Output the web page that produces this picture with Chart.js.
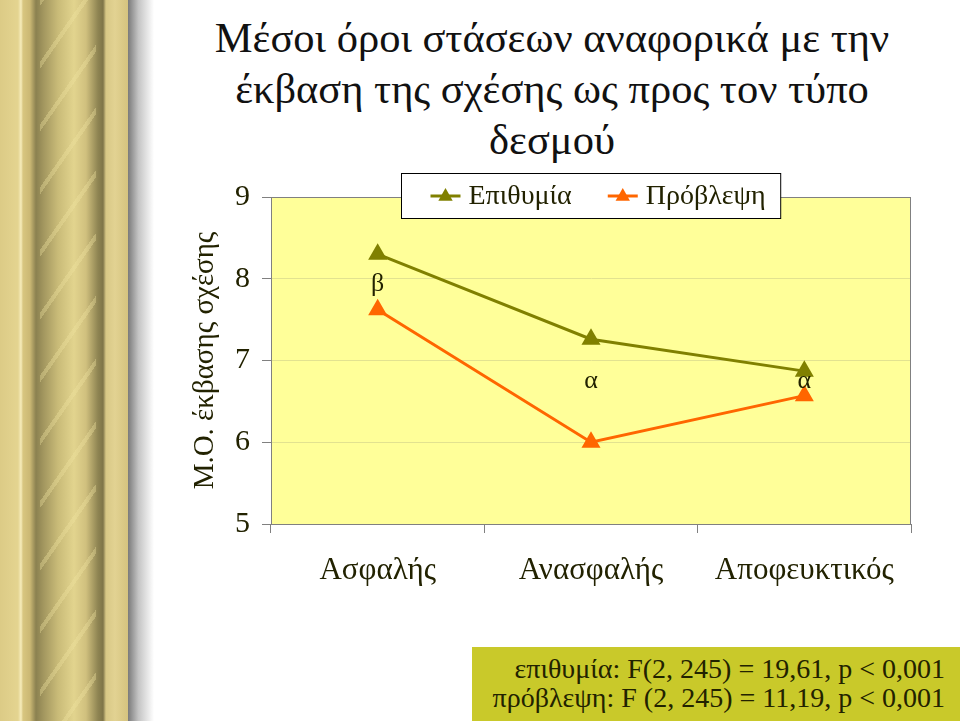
<!DOCTYPE html>
<html><head><meta charset="utf-8">
<script src="https://cdn.jsdelivr.net/npm/chart.js@4"></script>
<style>
html,body{margin:0;padding:0;width:960px;height:721px;overflow:hidden;background:#fff;}
#strip{position:absolute;left:0;top:0;width:128px;height:721px;background:linear-gradient(to right,#dccb86 0px,#e4d490 18px,#f6ecbc 21px,#d8c680 23px,#cbb874 30px,#8b8150 36px,#a49860 44px,#c9bb78 58px,#e2d48e 74px,#d0c07e 86px,#8e8452 98px,#7e7448 103px,#d8c886 106px,#e2d292 115px,#d6c480 127px);}
#rodhl{position:absolute;left:40px;top:0;width:56px;height:721px;background:repeating-linear-gradient(-55deg,rgba(0,0,0,0) 0px,rgba(0,0,0,0) 24px,rgba(240,228,160,0.35) 24px,rgba(240,228,160,0.35) 28px,rgba(0,0,0,0) 28px,rgba(0,0,0,0) 36px);}
#shadow{position:absolute;left:128px;top:0;width:26px;height:721px;background:linear-gradient(to right,#7a7a7a,#c4c4c4 40%,#ffffff);}
#title{position:absolute;left:200px;width:704px;top:12px;text-align:center;font-family:"Liberation Serif";font-size:42.5px;line-height:51px;color:#111;white-space:nowrap;}
#wrap{position:absolute;left:0;top:0;width:960px;height:721px;}
#stats{position:absolute;left:472px;top:647px;width:488px;height:74px;background:#c9c92a;text-align:right;font-family:"Liberation Serif";font-size:28px;line-height:29px;color:#222200;box-sizing:border-box;padding:7px 15px 0 0;white-space:nowrap;}
</style>
</head><body>
<div id="strip"></div><div id="rodhl"></div><div id="shadow"></div>
<div id="title">Μέσοι όροι στάσεων αναφορικά με την<br>έκβαση της σχέσης ως προς τον τύπο<br>δεσμού</div>
<div id="wrap"><canvas id="c" width="960" height="721"></canvas></div>
<div id="stats">επιθυμία: F(2, 245) = 19,61, p &lt; 0,001<br>πρόβλεψη: F (2, 245) = 11,19, p &lt; 0,001</div>
<script>
const categories = ['Ασφαλής', 'Ανασφαλής', 'Αποφευκτικός'];
const seriesNames = ['Επιθυμία', 'Πρόβλεψη'];
const desireValues = [8.30, 7.26, 6.87];
const predictionValues = [7.62, 6.00, 6.57];
const yTickValues = [5, 6, 7, 8, 9];
const yAxisTitle = 'Μ.Ο. έκβασης σχέσης';
const markLabels = ['β', 'α', 'α'];
const markLabelValues = [7.93, 6.75, 6.75];

const FONT = '"Liberation Serif"';
const colors = ['#808000', '#FF6600'];
const textColor = '#222200';

const decor = {
  id: 'decor',
  beforeDraw(chart) {
    const {ctx, chartArea: a} = chart;
    ctx.save();
    ctx.fillStyle = '#FFFF99';
    ctx.fillRect(a.left, a.top, a.right - a.left, a.bottom - a.top);
    ctx.restore();
  },
  beforeDatasetsDraw(chart) {
    const {ctx, chartArea: a} = chart;
    ctx.save();
    ctx.strokeStyle = '#808080';
    ctx.lineWidth = 1;
    ctx.strokeRect(a.left + 0.5, a.top + 0.5, a.right - a.left - 1, a.bottom - a.top);
    ctx.restore();
  },
  afterDatasetsDraw(chart) {
    const {ctx} = chart;
    const xs = chart.scales.x, ys = chart.scales.y;
    ctx.save();
    ctx.fillStyle = textColor;
    ctx.font = '26px ' + FONT;
    ctx.textAlign = 'center';
    ctx.textBaseline = 'middle';
    markLabels.forEach((t, i) => {
      ctx.fillText(t, xs.getPixelForValue(i), ys.getPixelForValue(markLabelValues[i]));
    });
    // legend
    const a = chart.chartArea;
    ctx.font = '28px ' + FONT;
    const sample = 30, gap = 8, itemGap = 36, padL = 29, padR = 15;
    const widths = chart.data.datasets.map(d => sample + gap + ctx.measureText(d.label).width);
    const total = widths.reduce((s, w) => s + w, 0) + itemGap * (widths.length - 1) + padL + padR;
    const cx = (a.left + a.right) / 2;
    const bx = Math.round(cx - total / 2) + 0.5, by = a.top - 24 + 0.5, bh = 45;
    ctx.fillStyle = '#fff';
    ctx.fillRect(bx, by, total, bh);
    ctx.strokeStyle = '#000';
    ctx.lineWidth = 1;
    ctx.strokeRect(bx, by, total, bh);
    let x = bx + padL;
    const ly = by + bh / 2;
    chart.data.datasets.forEach((d, i) => {
      ctx.strokeStyle = d.borderColor;
      ctx.lineWidth = 3;
      ctx.beginPath();
      ctx.moveTo(x, ly); ctx.lineTo(x + sample, ly); ctx.stroke();
      ctx.fillStyle = d.borderColor;
      ctx.beginPath();
      const r = 8;
      ctx.moveTo(x + sample / 2, ly - r);
      ctx.lineTo(x + sample / 2 + r * 0.9, ly + r * 0.6);
      ctx.lineTo(x + sample / 2 - r * 0.9, ly + r * 0.6);
      ctx.closePath(); ctx.fill();
      ctx.fillStyle = textColor;
      ctx.textAlign = 'left';
      ctx.fillText(d.label, x + sample + gap, ly + 1);
      x += widths[i] + itemGap;
    });
    ctx.restore();
  }
};

new Chart(document.getElementById('c'), {
  type: 'line',
  data: {
    labels: categories,
    datasets: [
      {label: seriesNames[0], data: desireValues, borderColor: colors[0], backgroundColor: colors[0], borderWidth: 3, pointStyle: 'triangle', pointRadius: 8, pointHoverRadius: 8, tension: 0},
      {label: seriesNames[1], data: predictionValues, borderColor: colors[1], backgroundColor: colors[1], borderWidth: 3, pointStyle: 'triangle', pointRadius: 8, pointHoverRadius: 8, tension: 0}
    ]
  },
  options: {
    responsive: false,
    animation: false,
    devicePixelRatio: 1,
    layout: {padding: {left: 184, top: 197, right: 49, bottom: 0}},
    plugins: {legend: {display: false}, title: {display: false}, tooltip: {enabled: false}},
    scales: {
      x: {
        type: 'category',
        offset: true,
        grid: {offset: true, drawOnChartArea: false, drawTicks: true, tickLength: 9, tickColor: '#808080'},
        border: {color: '#808080'},
        ticks: {color: textColor, font: {family: FONT, size: 31}, padding: 19, maxRotation: 0, autoSkip: false},
        afterFit(s) { s.height = 197; }
      },
      y: {
        min: 5, max: 9,
        afterBuildTicks(s) { s.ticks = yTickValues.map(v => ({value: v})); },
        grid: {color: '#E2E290', tickLength: 9, tickColor: '#808080'},
        border: {color: '#808080'},
        ticks: {color: textColor, font: {family: FONT, size: 30}, padding: 12},
        title: {display: true, text: yAxisTitle, color: textColor, font: {family: FONT, size: 29}, padding: {top: 4, bottom: 0}},
        afterFit(s) { s.width = 87; }
      }
    }
  },
  plugins: [decor]
});
</script>
</body></html>
